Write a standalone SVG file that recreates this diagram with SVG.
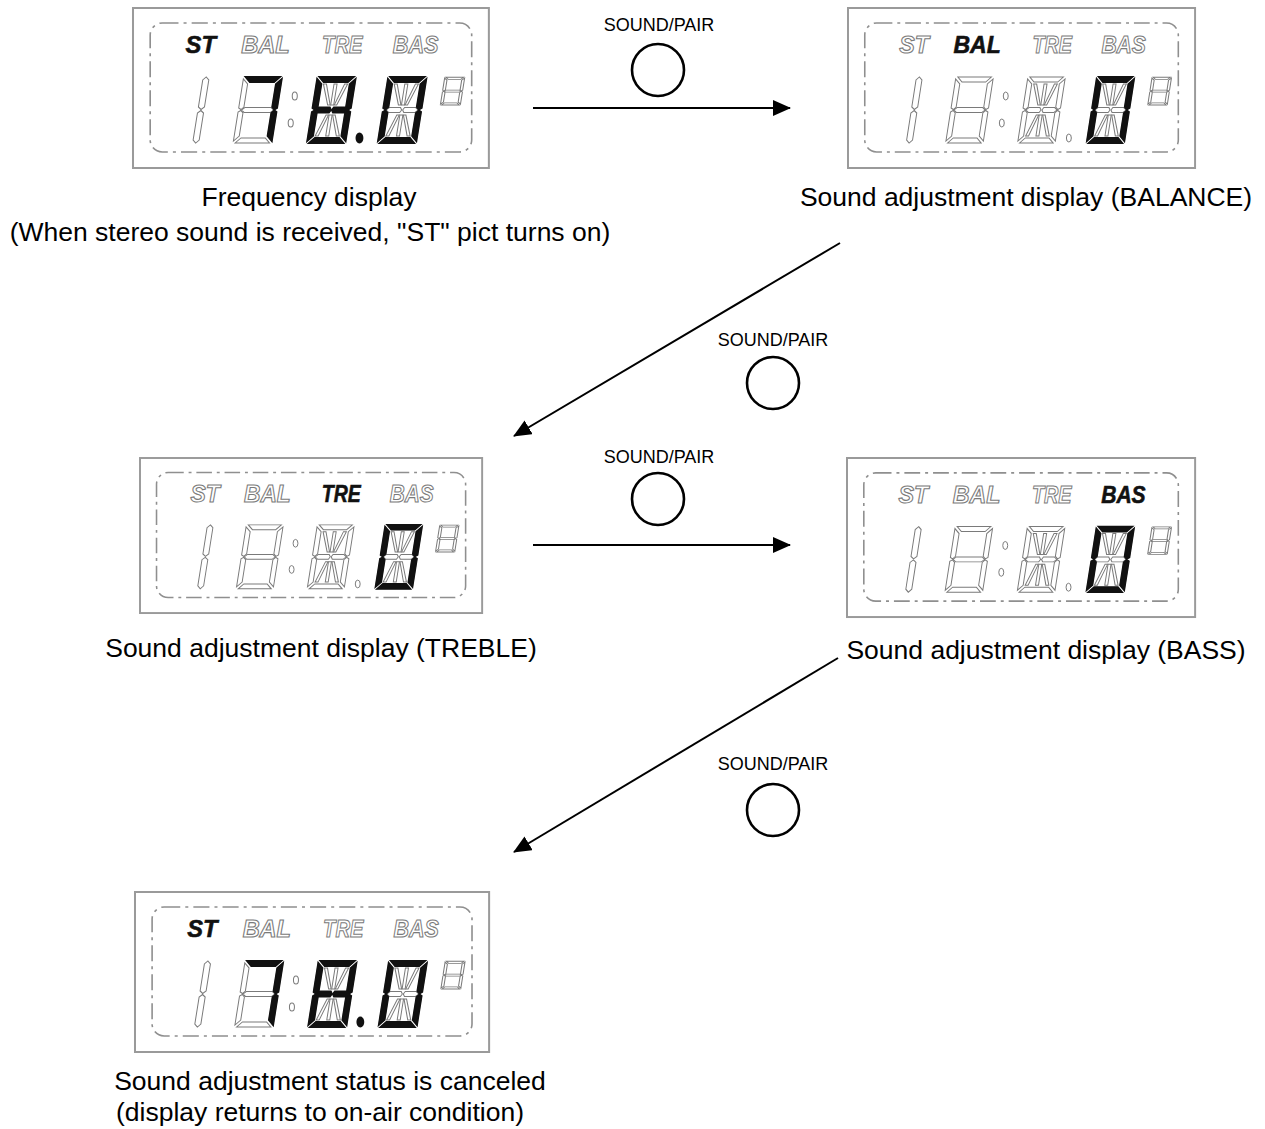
<svg xmlns="http://www.w3.org/2000/svg" xmlns:xlink="http://www.w3.org/1999/xlink" width="1265" height="1129" viewBox="0 0 1265 1129">
<style>
  .frame{fill:#fff;stroke:#9a9a9a;stroke-width:2}
  .bezel{fill:none;stroke:#8f8f8f;stroke-width:1.6;stroke-dasharray:16 5 3 5}
  .off{fill:#fff;stroke:#7a7a7a;stroke-width:1}
  .on{fill:#111;stroke:#111;stroke-width:1.8}
  .ind{font-family:"Liberation Sans",Arial,sans-serif;font-style:italic;font-weight:bold;font-size:24px}
  .ind.off{stroke-width:1.1}
  .ind.on{stroke-width:0.6}
  .cap{font-family:"Liberation Sans",Arial,sans-serif;font-size:26.5px;fill:#000;text-anchor:middle}
  .blabel{font-family:"Liberation Sans",Arial,sans-serif;font-size:18px;fill:#000;text-anchor:middle}
  .btn{fill:none;stroke:#000;stroke-width:2.6}
  .conn{fill:none;stroke:#000;stroke-width:2;marker-end:url(#arrow)}
</style>
<defs>
  <marker id="arrow" markerUnits="userSpaceOnUse" viewBox="0 0 18 16" markerWidth="18" markerHeight="16" refX="17" refY="8" orient="auto">
    <path d="M0,0 L18,8 L0,16 Z" fill="#000"/>
  </marker>
  <path id="sa" d="M2,-66 H36 L31,-61 H7 Z"/>
  <path id="sb" d="M38,-64 V-35 L35.5,-33.5 L33,-36 V-59 Z"/>
  <path id="sc" d="M38,-31 V-2 L33,-7 V-30 L35.5,-32.5 Z"/>
  <path id="sd" d="M2,0 H36 L31,-5 H7 Z"/>
  <path id="se" d="M0,-31 V-2 L5,-7 V-30 L2.5,-32.5 Z"/>
  <path id="sf" d="M0,-64 V-35 L2.5,-33.5 L5,-36 V-59 Z"/>
  <path id="sg" d="M3,-33 L6,-35.5 H32 L35,-33 L32,-30.5 H6 Z"/>
  <path id="sg1" d="M3,-33 L6,-35.5 H17 L18.5,-33 L17,-30.5 H6 Z"/>
  <path id="sg2" d="M19.5,-33 L21,-35.5 H32 L35,-33 L32,-30.5 H21 Z"/>
  <path id="sh" d="M7,-59 H10 L17,-38 H14.5 Z"/>
  <path id="si" d="M17.5,-59 H20.5 V-38 H17.5 Z"/>
  <path id="sj" d="M28,-59 H31 L23.5,-38 H21 Z"/>
  <path id="sk" d="M14.5,-28 H17 L10,-7 H7 Z"/>
  <path id="sl" d="M17.5,-28 H20.5 V-7 H17.5 Z"/>
  <path id="sm" d="M21,-28 H23.5 L31,-7 H28 Z"/>
  <g id="one">
    <path d="M3,-66 L6,-63 V-36 L3,-33.5 L0,-36 V-63 Z"/>
    <path d="M3,-32.5 L6,-30 V-3 L3,0 L0,-3 V-30 Z"/>
  </g>
  <g id="d7">
    <use href="#sa"/><use href="#sb"/><use href="#sc"/><use href="#sd"/><use href="#se"/><use href="#sf"/><use href="#sg"/>
  </g>
  <g id="d16">
    <use href="#sa"/><use href="#sb"/><use href="#sc"/><use href="#sd"/><use href="#se"/><use href="#sf"/>
    <use href="#sg1"/><use href="#sg2"/><use href="#sh"/><use href="#si"/><use href="#sj"/><use href="#sk"/><use href="#sl"/><use href="#sm"/>
  </g>
  <g id="lit0">
    <use href="#sa"/><use href="#sb"/><use href="#sc"/><use href="#sd"/><use href="#se"/><use href="#sf"/>
  </g>
  <g id="lit8">
    <use href="#lit0"/><use href="#sg1"/><use href="#sg2"/>
  </g>
  <g id="lit7">
    <use href="#sa"/><use href="#sb"/><use href="#sc"/>
  </g>
  <g id="lcd">
    <rect class="frame" x="0" y="0" width="352" height="160"/>
    <rect class="bezel" x="17" y="15" width="318" height="129" rx="12"/>
    <g class="off">
      <g transform="translate(59,135) skewX(-9)"><use href="#one"/></g>
      <g transform="translate(99,135) skewX(-9)"><use href="#d7"/></g>
      <ellipse cx="160" cy="88" rx="2.5" ry="4"/>
      <ellipse cx="156" cy="115" rx="2.5" ry="4"/>
      <g transform="translate(172,135) skewX(-9)"><use href="#d16"/></g>
      <ellipse cx="224" cy="130" rx="2.5" ry="4"/>
      <g transform="translate(242,135) skewX(-9)"><use href="#d16"/></g>
      <g transform="translate(304,97) skewX(-9) scale(0.52,0.42)" stroke-width="2"><use href="#d7"/></g>
    </g>
  </g>
</defs>

<rect x="0" y="0" width="1265" height="1129" fill="#fff"/>

<g id="connectors">
  <line class="conn" x1="533" y1="108" x2="790" y2="108"/>
  <line class="conn" x1="840" y1="243" x2="514" y2="436"/>
  <line class="conn" x1="533" y1="545" x2="790" y2="545"/>
  <line class="conn" x1="838" y1="658" x2="514" y2="852"/>
</g>

<g id="button-1">
  <text class="blabel" x="659" y="31">SOUND/PAIR</text>
  <circle class="btn" cx="658" cy="70" r="26"/>
</g>
<g id="button-2">
  <text class="blabel" x="773" y="346">SOUND/PAIR</text>
  <circle class="btn" cx="773" cy="383" r="26"/>
</g>
<g id="button-3">
  <text class="blabel" x="659" y="463">SOUND/PAIR</text>
  <circle class="btn" cx="658" cy="499" r="26"/>
</g>
<g id="button-4">
  <text class="blabel" x="773" y="770">SOUND/PAIR</text>
  <circle class="btn" cx="773" cy="810" r="26"/>
</g>

<g id="node-frequency">
  <g transform="translate(133,8) scale(1.011,1)">
    <use href="#lcd"/>
    <g class="on">
      <g transform="translate(99,135) skewX(-9)"><use href="#lit7"/></g>
      <g transform="translate(172,135) skewX(-9)"><use href="#lit8"/></g>
      <ellipse cx="224" cy="130" rx="3" ry="4.5"/>
      <g transform="translate(242,135) skewX(-9)"><use href="#lit0"/></g>
    </g>
    <text class="ind on" x="52" y="45" textLength="30" lengthAdjust="spacingAndGlyphs">ST</text>
    <text class="ind off" x="107" y="45" textLength="48" lengthAdjust="spacingAndGlyphs">BAL</text>
    <text class="ind off" x="187" y="45" textLength="40" lengthAdjust="spacingAndGlyphs">TRE</text>
    <text class="ind off" x="257" y="45" textLength="45" lengthAdjust="spacingAndGlyphs">BAS</text>
  </g>
  <text class="cap" x="309" y="206">Frequency display</text>
  <text class="cap" x="310" y="241">(When stereo sound is received, "ST" pict turns on)</text>
</g>

<g id="node-balance">
  <g transform="translate(848,8) scale(0.986,1)">
    <use href="#lcd"/>
    <g class="on">
      <g transform="translate(242,135) skewX(-9)"><use href="#lit0"/></g>
    </g>
    <text class="ind off" x="52" y="45" textLength="30" lengthAdjust="spacingAndGlyphs">ST</text>
    <text class="ind on" x="107" y="45" textLength="48" lengthAdjust="spacingAndGlyphs">BAL</text>
    <text class="ind off" x="187" y="45" textLength="40" lengthAdjust="spacingAndGlyphs">TRE</text>
    <text class="ind off" x="257" y="45" textLength="45" lengthAdjust="spacingAndGlyphs">BAS</text>
  </g>
  <text class="cap" x="1026" y="206">Sound adjustment display (BALANCE)</text>
</g>

<g id="node-treble">
  <g transform="translate(140,458) scale(0.972,0.969)">
    <use href="#lcd"/>
    <g class="on">
      <g transform="translate(242,135) skewX(-9)"><use href="#lit0"/></g>
    </g>
    <text class="ind off" x="52" y="45" textLength="30" lengthAdjust="spacingAndGlyphs">ST</text>
    <text class="ind off" x="107" y="45" textLength="48" lengthAdjust="spacingAndGlyphs">BAL</text>
    <text class="ind on" x="187" y="45" textLength="40" lengthAdjust="spacingAndGlyphs">TRE</text>
    <text class="ind off" x="257" y="45" textLength="45" lengthAdjust="spacingAndGlyphs">BAS</text>
  </g>
  <text class="cap" x="321" y="657">Sound adjustment display (TREBLE)</text>
</g>

<g id="node-bass">
  <g transform="translate(847,458) scale(0.989,0.994)">
    <use href="#lcd"/>
    <g class="on">
      <g transform="translate(242,135) skewX(-9)"><use href="#lit0"/></g>
    </g>
    <text class="ind off" x="52" y="45" textLength="30" lengthAdjust="spacingAndGlyphs">ST</text>
    <text class="ind off" x="107" y="45" textLength="48" lengthAdjust="spacingAndGlyphs">BAL</text>
    <text class="ind off" x="187" y="45" textLength="40" lengthAdjust="spacingAndGlyphs">TRE</text>
    <text class="ind on" x="257" y="45" textLength="45" lengthAdjust="spacingAndGlyphs">BAS</text>
  </g>
  <text class="cap" x="1046" y="659">Sound adjustment display (BASS)</text>
</g>

<g id="node-canceled">
  <g transform="translate(135,892) scale(1.006,1)">
    <use href="#lcd"/>
    <g class="on">
      <g transform="translate(99,135) skewX(-9)"><use href="#lit7"/></g>
      <g transform="translate(172,135) skewX(-9)"><use href="#lit8"/></g>
      <ellipse cx="224" cy="130" rx="3" ry="4.5"/>
      <g transform="translate(242,135) skewX(-9)"><use href="#lit0"/></g>
    </g>
    <text class="ind on" x="52" y="45" textLength="30" lengthAdjust="spacingAndGlyphs">ST</text>
    <text class="ind off" x="107" y="45" textLength="48" lengthAdjust="spacingAndGlyphs">BAL</text>
    <text class="ind off" x="187" y="45" textLength="40" lengthAdjust="spacingAndGlyphs">TRE</text>
    <text class="ind off" x="257" y="45" textLength="45" lengthAdjust="spacingAndGlyphs">BAS</text>
  </g>
  <text class="cap" x="330" y="1090">Sound adjustment status is canceled</text>
  <text class="cap" x="320" y="1121">(display returns to on-air condition)</text>
</g>
</svg>
